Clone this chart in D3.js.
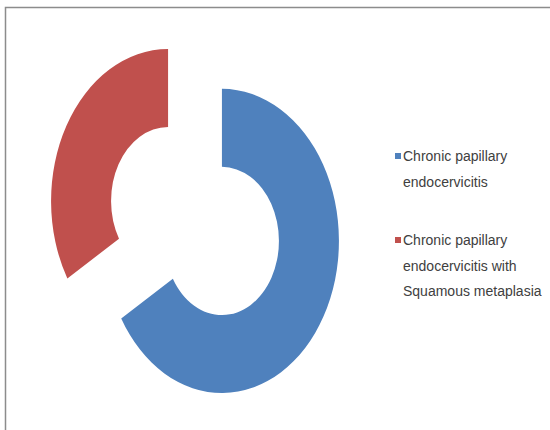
<!DOCTYPE html>
<html><head><meta charset="utf-8">
<script src="https://cdn.jsdelivr.net/npm/d3@7"></script>
<style>html,body{margin:0;padding:0;background:#fff;}svg{display:block;}</style>
</head><body>
<script>
const categories = ["Chronic papillary endocervicitis", "Chronic papillary endocervicitis with Squamous metaplasia"];
const values = [66.5, 33.5];
const colors = ["#4F81BD", "#C0504D"];
const legendLines = [["Chronic papillary", "endocervicitis"], ["Chronic papillary", "endocervicitis with", "Squamous metaplasia"]];

const W = 550, H = 430;
const svg = d3.select("body").append("svg").attr("width", W).attr("height", H);
svg.append("rect").attr("width", W).attr("height", H).attr("fill", "#fff");
// frame (top and left visible)
svg.append("rect").attr("x", 5.5).attr("y", 7.5).attr("width", 700).attr("height", 600)
  .attr("fill", "none").attr("stroke", "#8c8c8c").attr("stroke-width", 1.5);

const data = categories.map((c, i) => ({cat: c, value: values[i], color: colors[i]}));
const pie = d3.pie().value(d => d.value).sort(null).startAngle(0).endAngle(2 * Math.PI);
const rOut = 117, rIn = 57, explode = 31;
const arc = d3.arc().innerRadius(rIn).outerRadius(rOut);

const g = svg.append("g").attr("transform", "translate(195,221) scale(1,1.3)");
g.selectAll("path").data(pie(data)).join("path")
  .attr("d", arc)
  .attr("fill", d => d.data.color)
  .attr("transform", d => {
    const m = (d.startAngle + d.endAngle) / 2;
    return `translate(${explode * Math.sin(m)},${-explode * Math.cos(m)})`;
  });

// legend
const legendY = [161, 245];
const leg = svg.append("g");
data.forEach((d, i) => {
  const gi = leg.append("g").attr("transform", `translate(395,${legendY[i]})`);
  gi.append("rect").attr("x", 0).attr("y", -8).attr("width", 6).attr("height", 6).attr("fill", d.color);
  legendLines[i].forEach((t, j) => {
    gi.append("text").attr("x", 8).attr("y", j * 25.5)
      .attr("font-family", "Liberation Sans Narrow, Liberation Sans, Arial, sans-serif")
      .attr("font-size", 14).attr("fill", "#404040").text(t);
  });
});
</script>
</body></html>
